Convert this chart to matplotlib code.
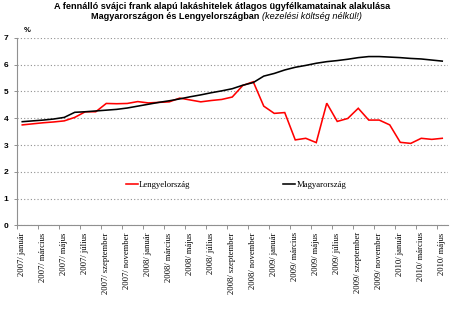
import matplotlib
matplotlib.use("Agg")
import matplotlib.pyplot as plt
from matplotlib.ticker import FixedLocator

# Monthly average client rates on outstanding CHF housing loans, 2007/01 - 2010/05
months = ["január", "február", "március", "április", "május", "június",
          "július", "augusztus", "szeptember", "október", "november", "december"]
periods = [f"{y}/ {m}" for y in (2007, 2008, 2009, 2010) for m in months][:41]

poland = [3.75, 3.79, 3.83, 3.86, 3.90, 4.03, 4.24, 4.24, 4.55, 4.54,
          4.55, 4.62, 4.57, 4.59, 4.61, 4.75, 4.68, 4.61, 4.66, 4.70,
          4.79, 5.22, 5.36, 4.45, 4.18, 4.21, 3.19, 3.25, 3.09, 4.56,
          3.88, 3.99, 4.37, 3.93, 3.93, 3.75, 3.10, 3.06, 3.25, 3.21,
          3.25]
hungary = [3.87, 3.90, 3.93, 3.97, 4.03, 4.22, 4.24, 4.27, 4.30, 4.33,
           4.38, 4.45, 4.52, 4.59, 4.65, 4.72, 4.80, 4.87, 4.95, 5.02,
           5.10, 5.23, 5.33, 5.57, 5.67, 5.80, 5.90, 5.97, 6.05, 6.11,
           6.15, 6.20, 6.26, 6.30, 6.30, 6.28, 6.26, 6.23, 6.21, 6.17,
           6.13]

W, H = 458, 323
fig = plt.figure(figsize=(W / 100, H / 100), dpi=100)
ax = fig.add_axes([17 / W, 1 - 225.4 / H, 430.5 / W, (225.4 - 37.8) / H])

x = list(range(len(periods)))
l_pl, = ax.plot(x, poland, color="#ff0000", lw=1.15, solid_joinstyle="miter")
l_hu, = ax.plot(x, hungary, color="#000000", lw=1.15, solid_joinstyle="miter")

ax.set_xlim(-0.5, len(periods) - 0.5)
ax.set_ylim(0, 7)

# y axis: integer gridlines, dotted
ax.set_yticks(range(0, 8))
ax.set_yticklabels([str(v) for v in range(0, 8)], fontsize=6,
                   fontfamily="Liberation Sans", fontweight="bold")
ax.yaxis.grid(True, color="#909090", linestyle=(0, (1, 2)), lw=0.8)
ax.tick_params(axis="y", length=2, width=0.6, color="#808080", pad=4)

# x axis: label every second month, tick marks between categories
label_pos = x[::2]
ax.set_xticks(label_pos)
ax.set_xticklabels([periods[i] for i in label_pos], rotation=90,
                   fontsize=6.2, fontfamily="Liberation Serif")
ax.tick_params(axis="x", length=0, pad=5)
ax.xaxis.set_minor_locator(FixedLocator([i - 0.5 for i in label_pos]))
ax.tick_params(axis="x", which="minor", length=3, width=0.6, color="#808080")

for side in ("top", "right"):
    ax.spines[side].set_visible(False)
for side in ("left", "bottom"):
    ax.spines[side].set_color("#909090")
    ax.spines[side].set_linewidth(0.8)
ax.set_axisbelow(True)

fig.text(24 / W, 1 - 31 / H, "%", fontsize=5.5, fontweight="bold",
         fontfamily="Liberation Sans", ha="left", va="center")

# legend entries
leg = ax.legend([l_pl, l_hu], ["Lengyelország", "Magyarország"],
                loc="center", bbox_to_anchor=(236 / W, 1 - 185 / H),
                bbox_transform=fig.transFigure, ncol=2, frameon=False,
                prop={"family": "Liberation Serif", "size": 6.3},
                handlelength=1.4, handletextpad=0.1, columnspacing=10.6)

# title
fig.text(222 / W, 1 - 6.5 / H,
         "A fennálló svájci frank alapú lakáshitelek átlagos ügyfélkamatainak alakulása",
         fontsize=6.6, fontweight="bold", fontfamily="Liberation Sans",
         ha="center", va="center")
r = fig.canvas.get_renderer()
t1 = fig.text(0, 1 - 16.5 / H, "Magyarországon és Lengyelországban ",
              fontsize=6.6, fontweight="bold", fontfamily="Liberation Sans",
              ha="left", va="center")
t2 = fig.text(0, 1 - 16.5 / H, "(kezelési költség nélkül!)",
              fontsize=6.6, fontstyle="italic", fontfamily="Liberation Sans",
              ha="left", va="center")
w1 = t1.get_window_extent(r).width
w2 = t2.get_window_extent(r).width
start = 226 - (w1 + w2) / 2
t1.set_x(start / W)
t2.set_x((start + w1) / W)

fig.savefig("out.png", dpi=100)
